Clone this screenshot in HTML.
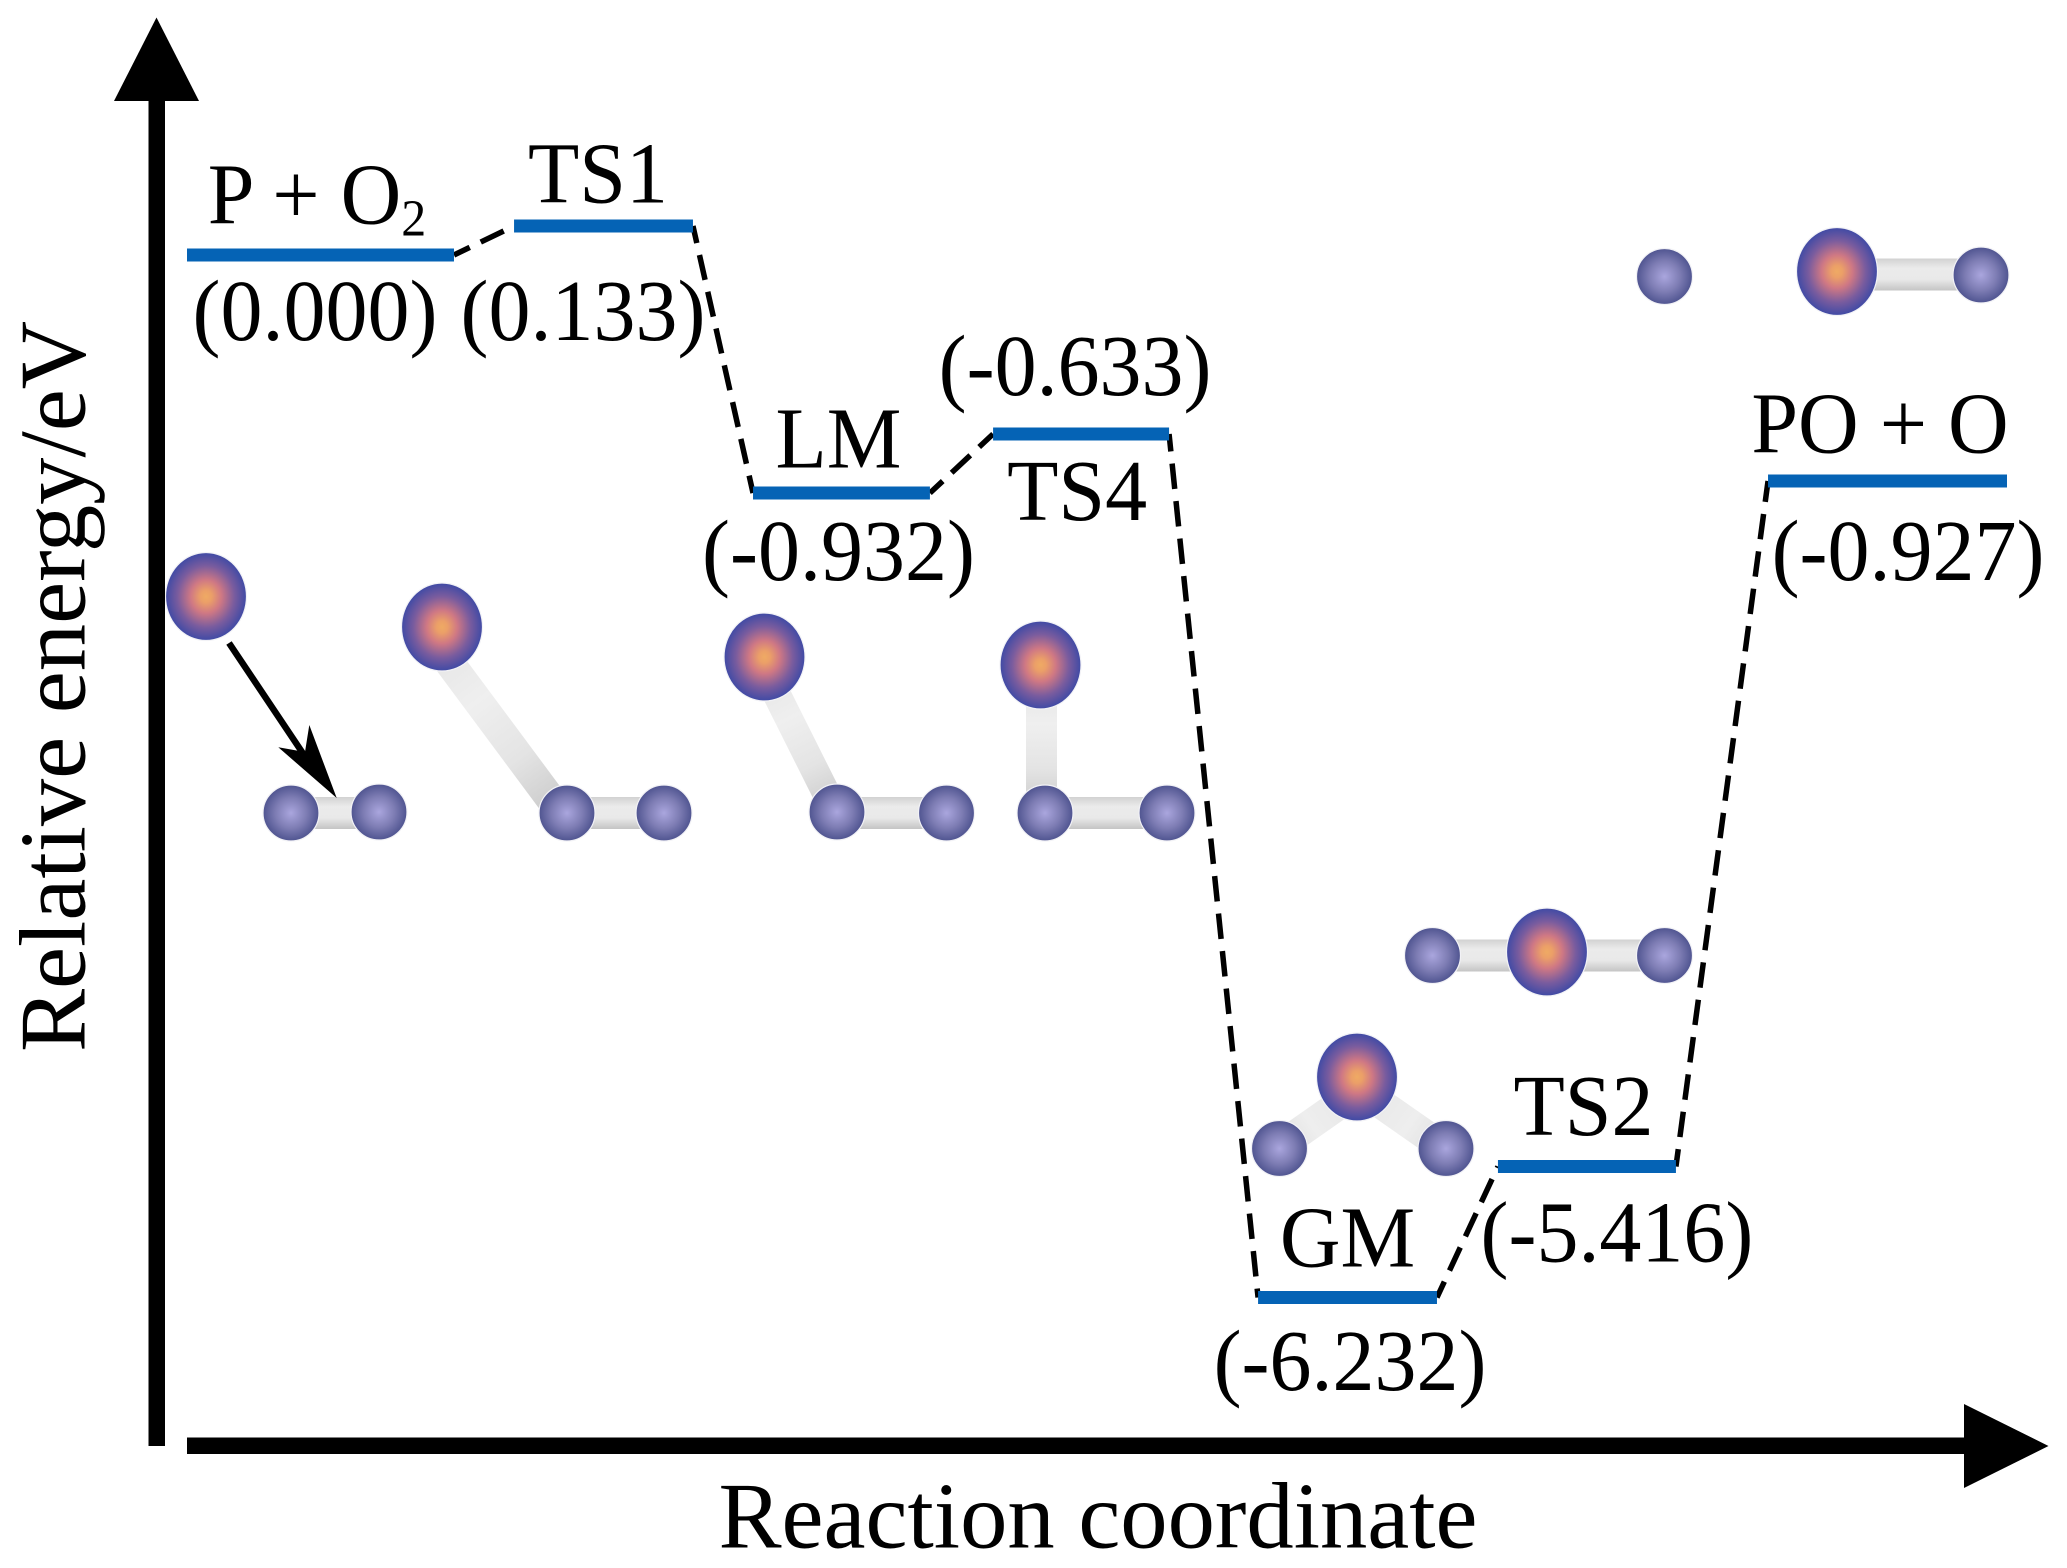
<!DOCTYPE html>
<html lang="en">
<head>
<meta charset="utf-8">
<title>Reaction energy profile</title>
<style>
  html, body { margin: 0; padding: 0; background: #fff; }
  svg { display: block; }
  text { font-family: "Liberation Serif", "Times New Roman", serif; fill: #000; }
</style>
</head>
<body>
<svg id="chart" xmlns="http://www.w3.org/2000/svg" width="2067" height="1568" viewBox="0 0 2067 1568">
  <defs>
    <radialGradient id="bigAtom" cx="50%" cy="50%" r="50%">
      <stop offset="0" stop-color="#efaa64"/>
      <stop offset="0.14" stop-color="#eb9f68"/>
      <stop offset="0.38" stop-color="#cf7884"/>
      <stop offset="0.7" stop-color="#7a5c9e"/>
      <stop offset="1" stop-color="#3f4aa5"/>
    </radialGradient>
    <radialGradient id="smallAtom" cx="50%" cy="50%" r="50%">
      <stop offset="0" stop-color="#aaa6de"/>
      <stop offset="0.55" stop-color="#7e7db4"/>
      <stop offset="1" stop-color="#4f5490"/>
    </radialGradient>
    <linearGradient id="bondAcross" x1="0" y1="0" x2="0" y2="1">
      <stop offset="0" stop-color="#d2d2d2"/>
      <stop offset="0.3" stop-color="#ebebeb"/>
      <stop offset="0.65" stop-color="#e9e9e9"/>
      <stop offset="1" stop-color="#c4c4c4"/>
    </linearGradient>
    <linearGradient id="bondAlong" x1="0" y1="0" x2="1" y2="0">
      <stop offset="0" stop-color="#e2e2e2"/>
      <stop offset="0.4" stop-color="#efefef"/>
      <stop offset="0.7" stop-color="#e4e4e4"/>
      <stop offset="1" stop-color="#c8c8c8"/>
    </linearGradient>
    <linearGradient id="bondLight" x1="0" y1="0" x2="1" y2="0">
      <stop offset="0" stop-color="#e6e6e6"/>
      <stop offset="0.6" stop-color="#eeeeee"/>
      <stop offset="1" stop-color="#dedede"/>
    </linearGradient>
  </defs>

  <g id="connectors"></g>
  <g id="levels"></g>

  <g>
    <rect x="291" y="797" width="88" height="32" fill="url(#bondAcross)"/>
    <rect x="567" y="797" width="97" height="32" fill="url(#bondAcross)"/>
    <rect x="0" y="-15" width="231.6" height="30" fill="url(#bondAlong)" transform="translate(423 627) rotate(53.4)"/>
    <rect x="837" y="797" width="110" height="32" fill="url(#bondAcross)"/>
    <rect x="0" y="-14" width="173" height="28" fill="url(#bondAlong)" transform="translate(758 657) rotate(63.4)"/>
    <rect x="1045" y="797" width="122" height="32" fill="url(#bondAcross)"/>
    <rect x="0" y="-15.5" width="148" height="31" fill="url(#bondAlong)" transform="translate(1041.5 665) rotate(90)"/>
    <rect x="1432" y="939.5" width="233" height="32" fill="url(#bondAcross)"/>
    <rect x="0" y="-15" width="94.6" height="30" fill="url(#bondLight)" transform="translate(1357 1092) rotate(145)"/>
    <rect x="0" y="-15" width="108.5" height="30" fill="url(#bondLight)" transform="translate(1357 1087) rotate(34.9)"/>
    <rect x="1837" y="258.5" width="144" height="32" fill="url(#bondAcross)"/>
  </g>

  <g stroke="#f2f2f6" stroke-width="1.2">
    <ellipse cx="206" cy="596.5" rx="40.5" ry="44" fill="url(#bigAtom)"/>
    <ellipse cx="442" cy="627" rx="40.5" ry="44" fill="url(#bigAtom)"/>
    <ellipse cx="764.5" cy="657" rx="40.5" ry="44" fill="url(#bigAtom)"/>
    <ellipse cx="1040.5" cy="665" rx="40.5" ry="44" fill="url(#bigAtom)"/>
    <ellipse cx="1547" cy="952" rx="40.5" ry="44" fill="url(#bigAtom)"/>
    <ellipse cx="1357" cy="1077" rx="40.5" ry="44" fill="url(#bigAtom)"/>
    <ellipse cx="1837" cy="271.5" rx="40.5" ry="44" fill="url(#bigAtom)"/>
  </g>

  <g stroke="#f2f2f6" stroke-width="1.2">
    <ellipse cx="291" cy="813" rx="28" ry="28" fill="url(#smallAtom)"/>
    <ellipse cx="379" cy="812" rx="28" ry="28" fill="url(#smallAtom)"/>
    <ellipse cx="567" cy="813" rx="28" ry="28" fill="url(#smallAtom)"/>
    <ellipse cx="664" cy="813" rx="28" ry="28" fill="url(#smallAtom)"/>
    <ellipse cx="837" cy="812" rx="28" ry="28" fill="url(#smallAtom)"/>
    <ellipse cx="946.5" cy="813" rx="28" ry="28" fill="url(#smallAtom)"/>
    <ellipse cx="1045" cy="813" rx="28" ry="28" fill="url(#smallAtom)"/>
    <ellipse cx="1167" cy="813" rx="28" ry="28" fill="url(#smallAtom)"/>
    <ellipse cx="1432.5" cy="955.5" rx="28" ry="28" fill="url(#smallAtom)"/>
    <ellipse cx="1664.5" cy="955.5" rx="28" ry="28" fill="url(#smallAtom)"/>
    <ellipse cx="1279.5" cy="1148.5" rx="28" ry="28" fill="url(#smallAtom)"/>
    <ellipse cx="1446" cy="1148.5" rx="28" ry="28" fill="url(#smallAtom)"/>
    <ellipse cx="1664.5" cy="276.5" rx="28" ry="28" fill="url(#smallAtom)"/>
    <ellipse cx="1981" cy="275" rx="28" ry="28" fill="url(#smallAtom)"/>
  </g>

  <g>
    <line x1="229" y1="643" x2="304" y2="755" stroke="#000" stroke-width="6.5"/>
    <polygon points="336.7,798 309.3,725 305,752 278.3,747.3" fill="#000"/>
  </g>

  <g id="labels"></g>

  <g>
    <rect x="148.5" y="100" width="16.5" height="1346" fill="#000"/>
    <polygon points="156.5,17.5 199,101 114,101" fill="#000"/>
    <rect x="187" y="1437.5" width="1778" height="16.5" fill="#000"/>
    <polygon points="2048.5,1446 1964,1404 1964,1488" fill="#000"/>
    <text transform="translate(84.5 686.5) rotate(-90)" text-anchor="middle" font-size="94.6">Relative energy/eV</text>
    <text x="1098" y="1547.5" text-anchor="middle" font-size="94.6">Reaction coordinate</text>
  </g>
</svg>

<script>
const stateIds = ['p-o2', 'ts1', 'lm', 'ts4', 'gm', 'ts2', 'po-o'];
const stateNames = ['P + O', 'TS1', 'LM', 'TS4', 'GM', 'TS2', 'PO + O'];
const relativeEnergies = [0.000, 0.133, -0.932, -0.633, -6.232, -5.416, -0.927];
const coordStart = [0, 17.97, 31.1, 44.29, 58.85, 72.03, 86.87];
const coordEnd = [14.67, 27.8, 40.82, 53.96, 68.68, 81.81, 100];

/* Horizontal reaction-coordinate axis (0–100 across the drawn levels). */
function xAxis(c) {
  return 187 + c * 18.2;
}

/* The diagram is schematic, so the energy axis is piecewise linear, not uniform. */
function yAxis(e) {
  const stops = [[0.133, 226], [0, 255], [-0.633, 434], [-0.927, 481], [-0.932, 493], [-5.416, 1166.5], [-6.232, 1297.5]];
  let i = 0;
  if (e < stops[0][0]) {
    i = stops.length - 2;
    for (let k = 0; k < stops.length - 1; k++) {
      if (e >= stops[k + 1][0]) { i = k; break; }
    }
  }
  const a = stops[i], b = stops[i + 1];
  return a[1] + (e - a[0]) * (b[1] - a[1]) / (b[0] - a[0]);
}

/* Label placement relative to each level's centre: [name dx, name dy, value dx, value dy]. */
function labelPlacement(i) {
  const placements = [
    [-3.5, -31.5, -5.5, 85],
    [-5.5, -23.5, -20.5, 114],
    [-3, -25.5, -3, 87],
    [-4, 86, -6, -39],
    [0, -31, 2.5, 92.5],
    [-3.5, -31.5, 30, 95],
    [-7.5, -28.5, 20.5, 99]
  ];
  return placements[i];
}

const NS = 'http://www.w3.org/2000/svg';
const connectorLayer = document.getElementById('connectors');
const levelLayer = document.getElementById('levels');
const labelLayer = document.getElementById('labels');

for (let i = 0; i < stateIds.length - 1; i++) {
  const line = document.createElementNS(NS, 'line');
  
  
  line.setAttribute('x1', xAxis(coordEnd[i]));
  line.setAttribute('y1', yAxis(relativeEnergies[i]));
  line.setAttribute('x2', xAxis(coordStart[i + 1]));
  line.setAttribute('y2', yAxis(relativeEnergies[i + 1]));
  line.setAttribute('stroke', '#000');
  line.setAttribute('stroke-width', '5.5');
  line.setAttribute('stroke-dasharray', '25.5 12.2');
  line.setAttribute('stroke-dashoffset', '8');
  connectorLayer.appendChild(line);
}

relativeEnergies.forEach(function (energy, i) {
  const x0 = xAxis(coordStart[i]);
  const x1 = xAxis(coordEnd[i]);
  const y = yAxis(energy);
  const cx = (x0 + x1) / 2;
  const place = labelPlacement(i);

  const level = document.createElementNS(NS, 'rect');
  
  
  level.setAttribute('x', x0);
  level.setAttribute('y', y - 6.5);
  level.setAttribute('width', x1 - x0);
  level.setAttribute('height', 13);
  level.setAttribute('fill', '#0563b5');
  levelLayer.appendChild(level);

  const name = document.createElementNS(NS, 'text');
  
  
  name.setAttribute('transform', 'translate(' + (cx + place[0]) + ' ' + (y + place[1]) + ') scale(1 1.035)');
  name.setAttribute('text-anchor', 'middle');
  name.setAttribute('font-size', '84');
  name.textContent = stateNames[i];
  if (i === 0) {
    const sub = document.createElementNS(NS, 'tspan');
    sub.setAttribute('font-size', '50');
    sub.setAttribute('dy', '11.5');
    sub.textContent = '2';
    name.appendChild(sub);
  }
  labelLayer.appendChild(name);

  const value = document.createElementNS(NS, 'text');
  
  
  value.setAttribute('transform', 'translate(' + (cx + place[2]) + ' ' + (y + place[3]) + ') scale(1 1.035)');
  value.setAttribute('text-anchor', 'middle');
  value.setAttribute('font-size', '84');
  value.textContent = '(' + energy.toFixed(3) + ')';
  labelLayer.appendChild(value);
});
</script>
</body>
</html>
